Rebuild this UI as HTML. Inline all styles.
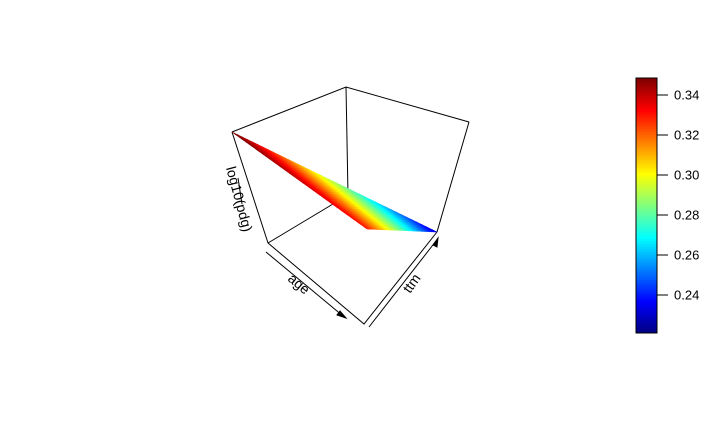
<!DOCTYPE html>
<html><head><meta charset="utf-8"><style>
body{margin:0;background:#fff}
svg{display:block;font-family:"Liberation Sans",sans-serif}
</style></head><body>
<svg id="chart" width="720" height="432" viewBox="0 0 720 432">
<g stroke="#000" stroke-width="1" fill="none">
<polyline points="232,132 346,87 469,122"/>
<line x1="346" y1="87" x2="348" y2="195"/>
<line x1="469" y1="122" x2="437" y2="232"/>
<line x1="232" y1="132" x2="268" y2="243"/>
<line x1="268" y1="243" x2="348" y2="195"/>
<polyline points="268,243 364,324 437,232"/>
</g>
<g id="surface"></g>
<g stroke="#000" fill="#000">
<line x1="266" y1="252" x2="343" y2="316"/><polygon points="346,318 337,315 340,311"/>
<line x1="369" y1="327" x2="436" y2="241"/><polygon points="438,238 437,247 433,245"/>
<line x1="238" y1="178" x2="242" y2="204"/>
</g>
<text transform="translate(226,168) rotate(75)" font-size="14">log10(pdg)</text>
<text transform="translate(287,280) rotate(40)" font-size="14">age</text>
<text transform="translate(410,294) rotate(-55)" font-size="14">ttm</text>
<g id="cbar"></g>
</svg>
<script>
const cornerLabels=["top-left","bottom-mid","right"];
const cornerZ=[0.35,0.33,0.23];
const colorbarTicks=[0.24,0.26,0.28,0.30,0.32,0.34];
const colorbarRange=[0.221,0.3485];
const NS="http://www.w3.org/2000/svg";
function jet(t){t=Math.max(0,Math.min(1,t));
 const r=Math.max(0,Math.min(1,1.5-Math.abs(4*t-3))),g=Math.max(0,Math.min(1,1.5-Math.abs(4*t-2))),b=Math.max(0,Math.min(1,1.5-Math.abs(4*t-1)));
 return `rgb(${Math.round(r*255)},${Math.round(g*255)},${Math.round(b*255)})`;}
function zcol(z){return jet((z-colorbarRange[0])/(colorbarRange[1]-colorbarRange[0]));}
const P=[[232,132],[367,229],[437,232]];
const surf=document.getElementById('surface');
const N=40;
function pt(i,j){const a=1-(i+j)/N,b=i/N,c=j/N;return [a*P[0][0]+b*P[1][0]+c*P[2][0],a*P[0][1]+b*P[1][1]+c*P[2][1],a*cornerZ[0]+b*cornerZ[1]+c*cornerZ[2]];}
function tri(p,q,r){const el=document.createElementNS(NS,'polygon');
 
 
 el.setAttribute('points',[p,q,r].map(v=>v[0].toFixed(2)+','+v[1].toFixed(2)).join(' '));
 const col=zcol((p[2]+q[2]+r[2])/3);el.setAttribute('fill',col);el.setAttribute('stroke',col);el.setAttribute('stroke-width','0.6');surf.appendChild(el);}
for(let i=0;i<N;i++)for(let j=0;j<N-i;j++){tri(pt(i,j),pt(i+1,j),pt(i,j+1));if(i+j<N-1)tri(pt(i+1,j),pt(i+1,j+1),pt(i,j+1));}
const cb=document.getElementById('cbar');const cbTop=78,cbBot=333,x0=636,w=21;
function yv(v){return cbBot-(v-colorbarRange[0])/(colorbarRange[1]-colorbarRange[0])*(cbBot-cbTop);}
for(let k=0;k<100;k++){const r=document.createElementNS(NS,'rect');
 
 
 const y1=cbBot-(k+1)*(cbBot-cbTop)/100;r.setAttribute('x',x0);r.setAttribute('y',y1);r.setAttribute('width',w);r.setAttribute('height',(cbBot-cbTop)/100+0.5);r.setAttribute('fill',jet((k+0.5)/100));cb.appendChild(r);}
const fr=document.createElementNS(NS,'rect');


fr.setAttribute('x',x0);fr.setAttribute('y',cbTop);fr.setAttribute('width',w);fr.setAttribute('height',cbBot-cbTop);fr.setAttribute('fill','none');fr.setAttribute('stroke','#000');cb.appendChild(fr);
colorbarTicks.forEach(v=>{const y=yv(v);const l=document.createElementNS(NS,'line');
 
 
 l.setAttribute('x1',x0+w);l.setAttribute('x2',x0+w+11);l.setAttribute('y1',y);l.setAttribute('y2',y);l.setAttribute('stroke','#000');cb.appendChild(l);
 const t=document.createElementNS(NS,'text');
 
 
 t.setAttribute('x',x0+w+17);t.setAttribute('y',y+4.5);t.setAttribute('font-size','13');t.textContent=v.toFixed(2);cb.appendChild(t);});
</script>
</body></html>
